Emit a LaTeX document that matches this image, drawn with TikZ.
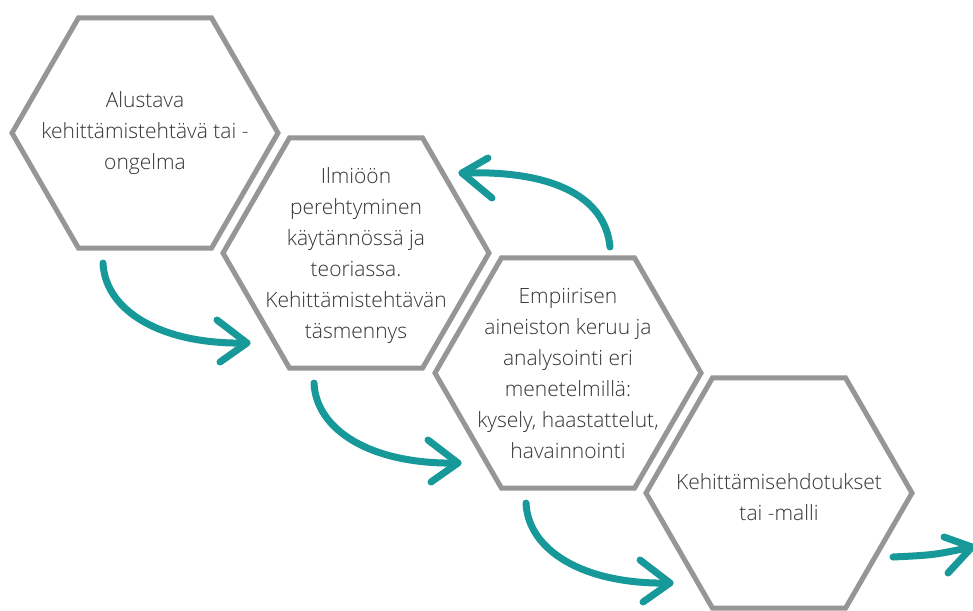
\documentclass[tikz,border=0pt]{standalone}
\usepackage{fontspec}
\setmainfont{Open Sans Light}
\usetikzlibrary{shapes.geometric,calc}
\definecolor{hexgray}{HTML}{969696}
\definecolor{tealarrow}{HTML}{17999A}
\definecolor{txtgray}{HTML}{333333}
\begin{document}
\begin{tikzpicture}[x=1pt,y=-1pt,
  hex/.style={regular polygon, regular polygon sides=6, minimum size=266pt,
    draw=hexgray, line width=5pt, inner sep=0pt},
  hextext/.style={align=center, text=txtgray, font=\fontsize{21}{31}\selectfont},
  flow/.style={draw=tealarrow, line width=7pt, line cap=round, line join=round}]
\useasboundingbox (0,0) rectangle (973,610);
\fill[white] (0,0) rectangle (973,610);

\node[hex] (h1) at (145,133) {};
\node[hex] (h2) at (356,253) {};
\node[hex] (h3) at (568,373) {};
\node[hex] (h4) at (779,493) {};

\node[hextext] (t1) at (h1) {Alustava\\kehittämistehtävä tai -\\ongelma};
\node[hextext] (t2) at ($(h2)+(0,3)$) {Ilmiöön\\perehtyminen\\käytännössä ja\\teoriassa.\\Kehittämistehtävän\\täsmennys};
\node[hextext] (t3) at (h3) {Empiirisen\\aineiston keruu ja\\analysointi eri\\menetelmillä:\\kysely, haastattelut,\\havainnointi};
\node[hextext] (t4) at ($(h4)+(0,4)$) {Kehittämisehdotukset\\tai -malli};

% forward arrows between hexagons
\foreach \a/\b in {h1/h2, h2/h3, h3/h4} {
  \coordinate (s-\a) at ($(\a)+(-42,130)$);
  \coordinate (c1-\a) at ($(\a)+(-40,177)$);
  \coordinate (c2-\a) at ($(\a)+(15,212)$);
  \coordinate (e-\a) at ($(\a)+(102,210)$);
  \coordinate (u-\a) at ($(\a)+(72,187)$);
  \coordinate (l-\a) at ($(\a)+(75,229)$);
  \draw[flow] (s-\a) .. controls (c1-\a) and (c2-\a) .. (e-\a);
  \draw[flow] (u-\a) -- (e-\a) -- (l-\a);
}

% back arrow from step 3 to step 2
\coordinate (bs) at ($(h3)+(42,-126)$);
\coordinate (bc1) at ($(h3)+(37,-178)$);
\coordinate (bc2) at ($(h3)+(-18,-203)$);
\coordinate (be) at ($(h3)+(-106,-200)$);
\coordinate (bu) at ($(h3)+(-80,-215)$);
\coordinate (bl) at ($(h3)+(-76,-175)$);
\draw[flow] (bs) .. controls (bc1) and (bc2) .. (be);
\draw[flow] (bu) -- (be) -- (bl);

% outgoing arrow
\coordinate (os) at ($(h4)+(114,64)$);
\coordinate (oc) at ($(h4)+(155,62)$);
\coordinate (oe) at ($(h4)+(193,54)$);
\coordinate (ou) at ($(h4)+(165,44)$);
\coordinate (ol) at ($(h4)+(169,80)$);
\draw[flow] (os) .. controls (oc) .. (oe);
\draw[flow] (ou) -- (oe) -- (ol);
\end{tikzpicture}
\end{document}
